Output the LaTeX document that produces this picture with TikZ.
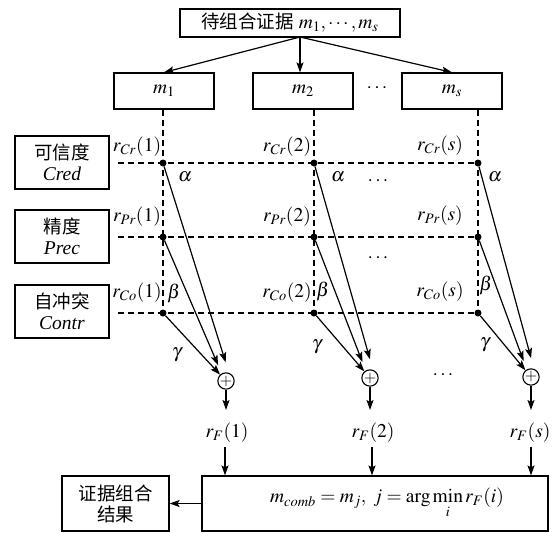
\documentclass[tikz,border=0pt]{standalone}
\usepackage{mathptmx}
\usepackage{fontspec}
\setmainfont{Liberation Serif}
\newfontfamily\cjk{Noto Sans CJK SC}
\usetikzlibrary{arrows.meta}
\begin{document}
\begin{tikzpicture}[x=1pt,y=-1pt, font=\fontsize{19.5}{21}\selectfont,
  box/.style={draw, line width=1.2pt, inner sep=0pt, align=center},
  arr/.style={-{Stealth[length=10pt,width=7pt,inset=2pt]}, line width=1.2pt},
  dsh/.style={dash pattern=on 6pt off 4pt, line width=1.3pt},
  dot/.style={circle, fill, inner sep=0pt, minimum size=7pt},
  plus/.style={circle, draw, line width=1.1pt, inner sep=0pt, minimum size=15pt, font=\fontsize{16}{16}\selectfont},
  lbl/.style={inner sep=0pt}]
\useasboundingbox (0,0) rectangle (552,533);

% top box and evidence boxes
\node[box, minimum width=220pt, minimum height=28pt] (top) at (290,23) {{\cjk\fontsize{18.5}{20}\selectfont 待组合证据}\ $m_1, \cdots, m_s$};
\coordinate (src) at (300,37);
\node[box, minimum width=100pt, minimum height=36pt] (m1) at (164,91) {$m_1$};
\node[box, minimum width=100pt, minimum height=36pt] (m2) at (303,91) {$m_2$};
\node[box, minimum width=100pt, minimum height=36pt] (ms) at (452,91) {$m_s$};
\node[lbl] (dt0) at (377,88) {$\cdots$};
\draw[arr] (src) -- (m1.north);
\draw[arr] (src) -- (src |- m2.north);
\draw[arr] (src) -- (ms.north);

% criteria boxes
\node[box, minimum width=94pt, minimum height=53pt] (cred) at (62,162.5) {{\cjk\fontsize{18.5}{20}\selectfont 可信度}\\\textit{Cred}};
\node[box, minimum width=94pt, minimum height=53pt] (prec) at (62,236.5) {{\cjk\fontsize{18.5}{20}\selectfont 精度}\\\textit{Prec}};
\node[box, minimum width=94pt, minimum height=53pt] (contr) at (62,311.5) {{\cjk\fontsize{18.5}{20}\selectfont 自冲突}\\\textit{Contr}};

% dots
\foreach \c/\x in {1/163,2/314,3/478}{
  \node[dot] (cr\c) at (\x,163) {};
  \node[dot] (pr\c) at (\x,237) {};
  \node[dot] (co\c) at (\x,313) {};
}
\coordinate (h1) at (118,163);
\coordinate (h2) at (118,237);
\coordinate (h3) at (118,313);
\draw[dsh] (h1) -- (cr3);
\draw[dsh] (h2) -- (pr3);
\draw[dsh] (h3) -- (co3);
\draw[dsh] (m1.south -| cr1) -- (co1);
\draw[dsh] (m2.south -| cr2) -- (co2);
\draw[dsh] (ms.south -| cr3) -- (co3);

% labels
\node[lbl] (lc1) at (137,147) {$r_{Cr}(1)$};
\node[lbl] (lc2) at (287,147) {$r_{Cr}(2)$};
\node[lbl] (lc3) at (440,146) {$r_{Cr}(s)$};
\node[lbl] (lp1) at (137,217) {$r_{Pr}(1)$};
\node[lbl] (lp2) at (287,217) {$r_{Pr}(2)$};
\node[lbl] (lp3) at (440,216) {$r_{Pr}(s)$};
\node[lbl] (lo1) at (137,293) {$r_{Co}(1)$};
\node[lbl] (lo2) at (287,293) {$r_{Co}(2)$};
\node[lbl] (lo3) at (440,292) {$r_{Co}(s)$};
\node[lbl] (dt1) at (378,181) {$\cdots$};
\node[lbl] (dt2) at (378,258) {$\cdots$};

\node[lbl] (a1) at (185,177) {$\alpha$};
\node[lbl] (a2) at (338,177) {$\alpha$};
\node[lbl] (a3) at (495,177) {$\alpha$};
\node[lbl] (b1) at (174,293) {$\beta$};
\node[lbl] (b2) at (323,291) {$\beta$};
\node[lbl] (b3) at (486,285) {$\beta$};
\node[lbl] (g1) at (177,355) {$\gamma$};
\node[lbl] (g2) at (317,347) {$\gamma$};
\node[lbl] (g3) at (485,345) {$\gamma$};

% sum nodes
\node[plus] (p1) at (226,381) {$+$};
\node[plus] (p2) at (370,378) {$+$};
\node[plus] (p3) at (531,377) {$+$};
\node[lbl] (dt3) at (443,375) {$\cdots$};
\foreach \c in {1,2,3}{
  \draw[arr, shorten >=11pt] (cr\c) -- (p\c.70);
  \draw[arr, shorten >=9pt] (pr\c) -- (p\c.120);
  \draw[arr] (co\c) -- (p\c);
}

% r_F
\node[lbl] (rf1) at (227,433) {$r_F(1)$};
\node[lbl] (rf2) at (373,433) {$r_F(2)$};
\node[lbl] (rf3) at (530,433) {$r_F(s)$};
\coordinate (t1) at (226,410);
\coordinate (t2) at (370,410);
\coordinate (t3) at (531,410);
\draw[arr] (p1) -- (t1);
\draw[arr] (p2) -- (t2);
\draw[arr] (p3) -- (t3);

% bottom
\node[box, minimum width=346pt, minimum height=55pt] (bot) at (375,503.5) {\hspace*{24pt}$m_{comb} = m_j,\ j = \arg\min\limits_{\lower2pt\hbox{$\scriptstyle i$}} r_F(i)$};
\node[box, minimum width=107pt, minimum height=55pt] (res) at (115.5,503.5) {{\cjk\fontsize{18.5}{20}\selectfont 证据组合}\\{\cjk\fontsize{18.5}{20}\selectfont 结果}};
\coordinate (s1) at (225,447);
\coordinate (s2) at (372,447);
\coordinate (s3) at (531,447);
\draw[arr] (s1) -- (s1 |- bot.north);
\draw[arr] (s2) -- (s2 |- bot.north);
\draw[arr] (s3) -- (s3 |- bot.north);
\draw[arr] (bot.west) -- (res.east);
\end{tikzpicture}
\end{document}
